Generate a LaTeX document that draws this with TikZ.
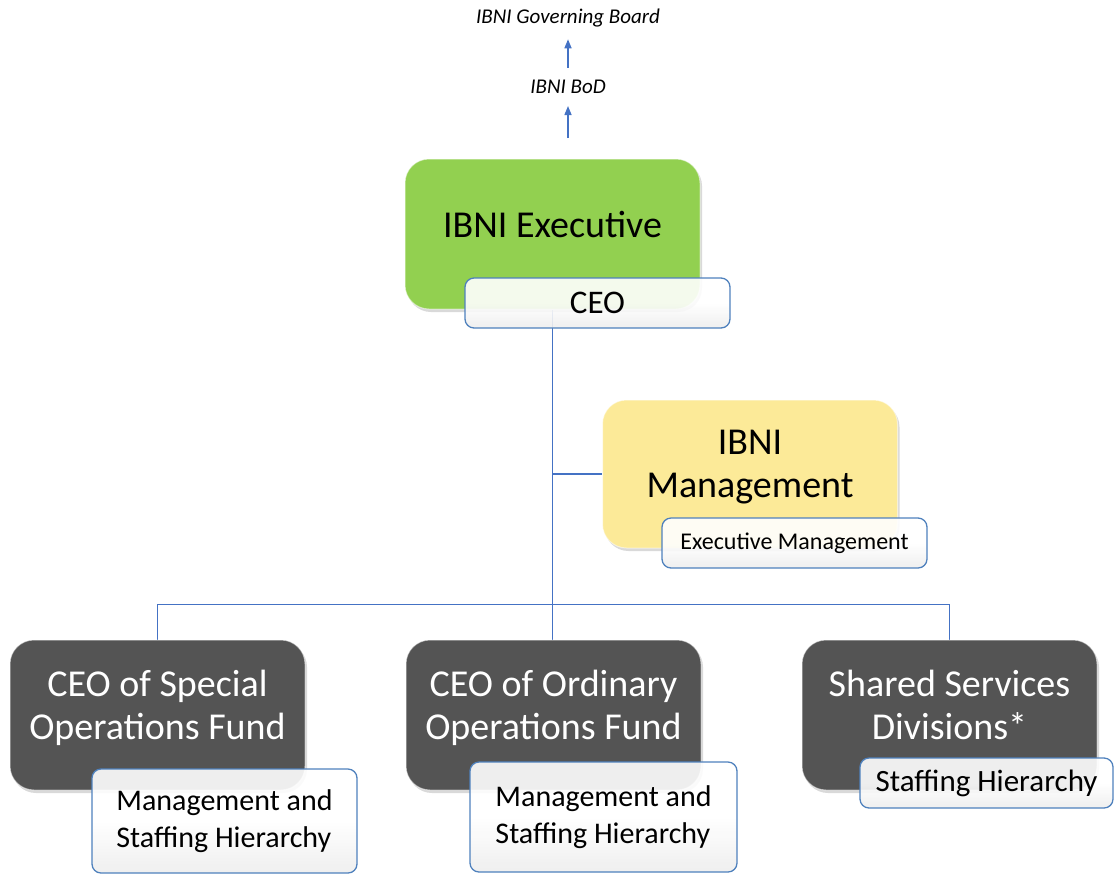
\documentclass[tikz,border=0pt]{standalone}
\usepackage{fontspec}
\setmainfont{Carlito}
\usetikzlibrary{shapes,arrows.meta,shadows,backgrounds}

\definecolor{execgreen}{RGB}{146,208,80}
\definecolor{mgmtyellow}{RGB}{252,234,152}
\definecolor{fundgray}{RGB}{84,84,84}
\definecolor{tagblue}{RGB}{79,129,189}
\definecolor{linkblue}{RGB}{68,114,196}

\begin{document}
\begin{tikzpicture}[x=1pt,y=-1pt,
  box/.style={rounded corners=24pt,minimum width=295pt,minimum height=150pt,align=center,
    text depth=20pt,draw=white,draw opacity=0.5,line width=1pt,
    drop shadow={opacity=0.3,shadow xshift=2pt,shadow yshift=-3pt}},
  tag/.style={rounded corners=9pt,draw=tagblue,line width=1.3pt,top color=white,bottom color=black!7,
    middle color=white,fill opacity=0.9,text opacity=1,inner sep=0pt},
  big/.style={font=\fontsize{38}{43}\selectfont},
  mid/.style={font=\fontsize{30}{37}\selectfont},
  lbl/.style={font=\fontsize{21}{25}\selectfont\itshape,inner sep=12pt},
  conn/.style={draw=linkblue,line width=1.5pt},
  arr/.style={conn,-{Triangle[length=9pt,width=7pt]}}]
\useasboundingbox (0,0) rectangle (1118,876);

% board on top
\node[lbl] (board) at (568,18) {IBNI Governing Board};
\node[lbl] (bod) at (568,87) {IBNI BoD};
\coordinate (foot) at (568,138);
\draw[arr] (bod.north) -- (board.south);
\draw[arr] (foot) -- (bod.south);

% main boxes
\node[box,fill=execgreen,big] (exec) at (552.5,234) {IBNI Executive};
\node[box,fill=mgmtyellow,big,minimum height=148pt] (mgmt) at (750,474) {IBNI\\Management};
\node[box,fill=fundgray,text=white,big] (sof) at (157.5,715) {CEO of Special\\Operations Fund};
\node[box,fill=fundgray,text=white,big] (oof) at (553.5,715) {CEO of Ordinary\\Operations Fund};
\node[box,fill=fundgray,text=white,big] (ssd) at (949.5,715) {Shared Services\\Divisions*};

% tags
\node[tag,minimum width=265pt,minimum height=50pt,font=\fontsize{33}{38}\selectfont] (ceo) at (597.5,303) {CEO};
\node[tag,minimum width=265pt,minimum height=50pt,font=\fontsize{24}{28}\selectfont] (exm) at (794.5,543) {Executive Management};
\node[tag,minimum width=265pt,minimum height=104pt,align=left,mid] (sofh) at (224.5,821) {Management and\\Staffing Hierarchy};
\node[tag,minimum width=267pt,minimum height=110pt,align=left,mid] (oofh) at (603.5,817) {Management and\\Staffing Hierarchy};
\node[tag,minimum width=253pt,minimum height=50pt,font=\fontsize{31}{36}\selectfont] (ssdh) at (986.5,783) {Staffing Hierarchy};

% lines
\begin{scope}[on background layer]
\draw[conn] (exec.south) -- (exec.south |- oof.north);
\draw[conn] (exec.south |- mgmt.west) -- (mgmt.west);
\draw[conn] (sof.north) -- ++(0,-35) -| (ssd.north);
\end{scope}
\end{tikzpicture}
\end{document}
